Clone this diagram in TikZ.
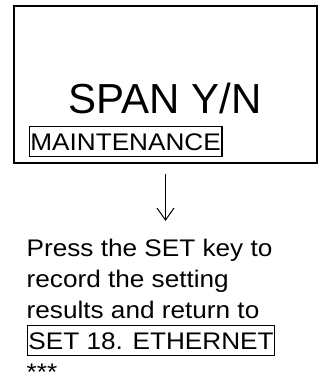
\documentclass[tikz,border=0pt]{standalone}
\usepackage{fontspec}
\setmainfont{Liberation Sans}
\newfontfamily\panelfont[FakeStretch=1.09]{Liberation Sans}
\usetikzlibrary{arrows.meta}

\begin{document}
\begin{tikzpicture}[x=1pt, y=1pt,
    panel/.style={draw, line width=2pt, minimum width=303pt, minimum height=157pt, inner sep=0pt},
    keybox/.style={draw, line width=1.4pt, inner xsep=1.2pt, inner ysep=0pt,
                   text height=23.5pt, text depth=6.5pt, anchor=base west,
                   font=\panelfont\fontsize{24}{31}\selectfont},
    txt/.style={anchor=base west, inner sep=0pt, font=\panelfont\fontsize{24}{31}\selectfont},
    arr/.style={-{Straight Barb[length=12pt, width=17pt, line width=1pt]}, line width=1pt}
  ]
    \useasboundingbox (0,0) rectangle (323,-372);

    % Display panel
    \node[panel] (disp) at (165.5,-84) {};
    \node[anchor=base, inner sep=0pt, font=\fontsize{42}{50}\selectfont] (span) at (165,-113) {SPAN Y/N};
    \node[keybox] (maint) at (28.5,-150) {MAINTENANCE};

    % Instruction text
    \node[txt] (l1) at (26.5,-256.5) {Press the SET key to};
    \node[txt] (l2) at (26.5,-287.5) {record the setting};
    \node[txt] (l3) at (26.5,-318.5) {results and return to};
    \node[keybox] (ether) at (26.5,-349) {SET 18. ETHERNET};
    \node[txt] (stars) at (26.5,-380) {***};

    % Flow arrow
    \draw[arr] ([yshift=-10pt]disp.south) -- ([yshift=18pt]disp.south |- l1.north);

  \end{tikzpicture}
\end{document}
